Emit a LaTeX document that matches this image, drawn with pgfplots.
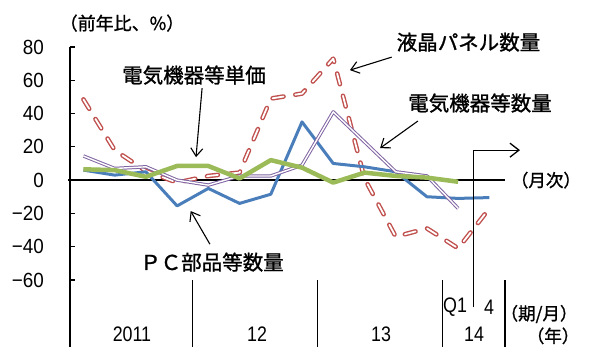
\documentclass[border=0pt]{standalone}
\usepackage{pgfplots}
\pgfplotsset{compat=1.18}
\usetikzlibrary{arrows.meta}
\usepackage{fontspec}
\setmainfont{Liberation Sans}
\newfontfamily\jp[FakeBold=1.2]{Noto Sans CJK JP}
\newfontfamily\num[FakeStretch=0.92]{Liberation Sans}
\newfontfamily\numnarrow[FakeStretch=0.85]{Liberation Sans}

\definecolor{pcblue}{HTML}{4A7EBB}
\definecolor{lcdred}{HTML}{C0504D}
\definecolor{eqpurple}{HTML}{8064A2}
\definecolor{pricegreen}{HTML}{9BBB59}

\newcommand{\jpL}{\jp\fontsize{20.5bp}{22bp}\selectfont}
\newcommand{\jpS}{\jp\fontsize{17.5bp}{19bp}\selectfont}
\newcommand{\numF}{\num\fontsize{20.5bp}{22bp}\selectfont}
\newcommand{\numS}{\numnarrow\fontsize{21bp}{23bp}\selectfont}

\tikzset{
  callout/.style={-{Straight Barb[length=8bp,width=12bp]}, line width=1.1bp, black},
}

\begin{document}
\begin{tikzpicture}
\begin{axis}[
  scale only axis, width=435bp, height=299.5bp,
  xmin=-0.43, xmax=13.5, ymin=-100, ymax=80,
  axis x line=none, axis y line*=left,
  axis line style={line width=1.3bp, black},
  ytick={-60,-40,-20,0,20,40,60,80},
  yticklabels={−60,−40,−20,0,20,40,60,80},
  tick align=inside, major tick length=5bp,
  tick style={black, line width=1.2bp},
  yticklabel style={font=\numF, anchor=east, inner sep=0pt, xshift=-26bp},
  clip=false, no markers,
]
% zero line
\draw[line width=1.3bp] (axis cs:-0.48,0) -- (axis cs:13.5,0);

% LCD panels, volume (y/y %)
\addplot[lcdred, line width=1.4bp, double=white, double distance=1.8bp,
  dash pattern=on 11bp off 12bp, line cap=round, line join=round] coordinates {
  (0,48.5)(1,18)(2,5.5)(3,-1.5)(4,2.5)(5,4.5)(6,49)(7,52)(8,73)(9,1)(10,-34)(11,-29)(12,-41)(13,-17)};
% PC parts etc., volume
\addplot[pcblue, line width=3bp, line join=round] coordinates {
  (0,6)(1,3)(2,5)(3,-15.5)(4,-5)(5,-14)(6,-8.5)(7,35)(8,10)(9,8)(10,5)(11,-10)(12,-11)(13,-10.5)};
% electrical machinery etc., volume
\addplot[eqpurple, line width=1bp, double=white, double distance=1.4bp, line join=round] coordinates {
  (0,14.5)(1,7)(2,8)(3,0)(4,-3)(5,2.5)(6,2.5)(7,9)(8,41)(9,23)(10,5)(11,2.5)(12,-17)};
% electrical machinery etc., unit price
\addplot[pricegreen, line width=4.5bp, line join=round] coordinates {
  (0,6.5)(1,6)(2,2)(3,8.5)(4,8.5)(5,1)(6,12)(7,7.5)(8,-1.5)(9,4.5)(10,2.5)(11,1.5)(12,-1)};

% unit label
\node[font=\jp\fontsize{18bp}{19bp}\selectfont] at (axis cs:1.235,94.35) {（前年比、\%）};

% series callouts
\node[font=\jpL] at (axis cs:3.54,63.1) {電気機器等単価};
\draw[callout] (axis cs:3.80,55.3) -- (axis cs:3.605,13.8);
\node[font=\jpL] at (axis cs:12.33,82.9) {液晶パネル数量};
\draw[callout] (axis cs:9.87,73.9) -- (axis cs:8.535,66.1);
\node[font=\jpL] at (axis cs:12.7,46.3) {電気機器等数量};
\draw[callout] (axis cs:10.71,35.5) -- (axis cs:9.5,19.2);
\node[font=\jpL] at (axis cs:4.117,-49.3) {ＰＣ部品等数量};
\draw[callout] (axis cs:4.05,-38.5) -- (axis cs:3.435,-18.6);

% switch from quarterly to monthly data
\draw[line width=1.3bp, -{Straight Barb[length=9bp,width=14bp]}]
  (axis cs:12.5,-76.3) -- (axis cs:12.5,18) -- (axis cs:13.98,18);
\node[font=\jpS] at (axis cs:14.81,0) {（月次）};

% period separators
\draw[line width=1.2bp] (axis cs:3.5,-60) -- (axis cs:3.5,-100.4);
\draw[line width=1.2bp] (axis cs:7.5,-60) -- (axis cs:7.5,-100.4);
\draw[line width=1.2bp] (axis cs:11.5,-60) -- (axis cs:11.5,-100.4);
\draw[line width=1.2bp] (axis cs:13.5,-60) -- (axis cs:13.5,-100.4);

% period and year labels
\node[font=\numS] at (axis cs:11.9,-76.6) {Q1};
\node[font=\numS] at (axis cs:12.99,-76.6) {4};
\node[font=\jpS] at (axis cs:14.59,-80.5) {（期/月）};
\node[font=\numS] at (axis cs:1.555,-92.8) {2011};
\node[font=\numS] at (axis cs:5.56,-92.8) {12};
\node[font=\numS] at (axis cs:9.53,-92.8) {13};
\node[font=\numS] at (axis cs:12.51,-92.8) {14};
\node[font=\jpS] at (axis cs:15.04,-93.6) {（年）};
\end{axis}
\pgfresetboundingbox
\useasboundingbox ([shift={(-70bp,-0.6bp)}]current axis.south west)
  rectangle ([shift={(84bp,47bp)}]current axis.north east);
\end{tikzpicture}
\end{document}
